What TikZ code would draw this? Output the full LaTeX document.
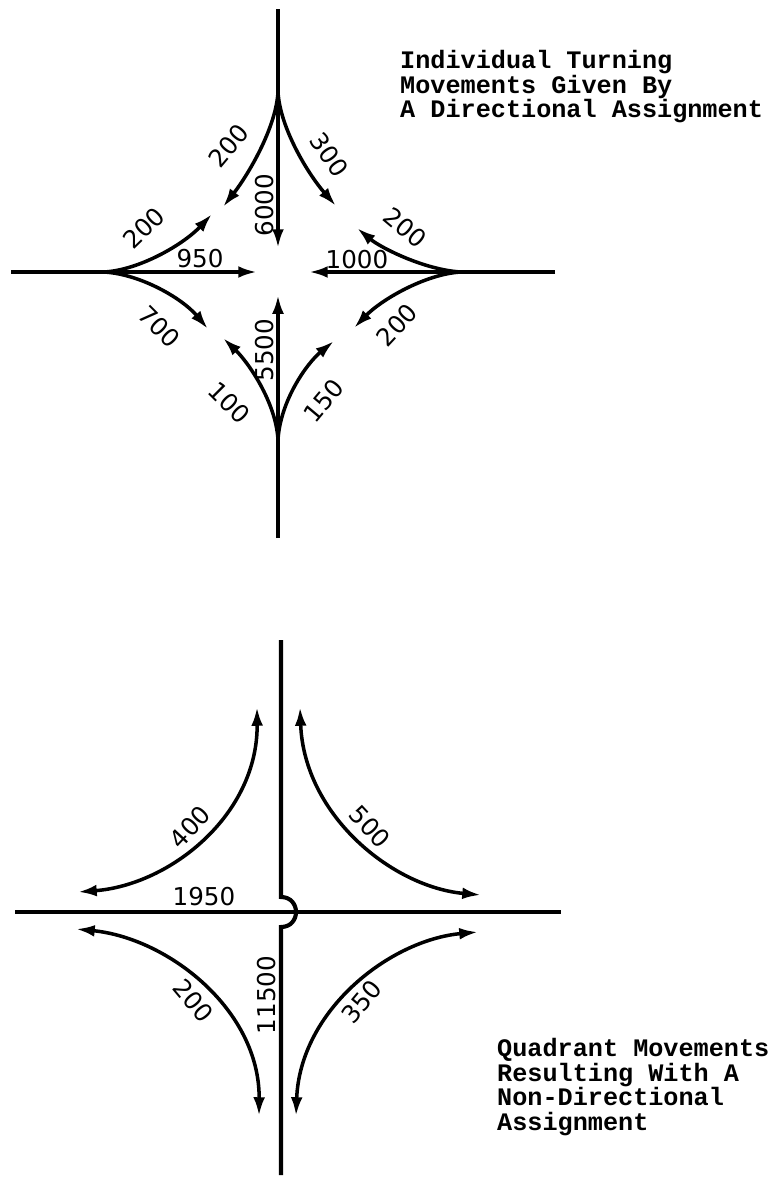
\documentclass[tikz,border=0pt]{standalone}
\usepackage{fontspec}
\setsansfont{DejaVu Sans}
\newfontfamily\typerfont{Liberation Mono}
\usetikzlibrary{arrows.meta}
\tikzset{
  roadline/.style={line width=3.5pt},
  turnarrow/.style={line width=3pt, -{Latex[length=16pt, width=10pt]}},
  quadarrow/.style={line width=3pt, {Latex[length=16pt, width=10pt]}-{Latex[length=16pt, width=10pt]}},
  countlabel/.style={font=\sffamily\fontsize{21}{21}\selectfont, inner sep=0pt},
  notetext/.style={font=\typerfont\bfseries\fontsize{21.5}{21}\selectfont, align=left, anchor=north west, inner sep=0pt}
}
\begin{document}
\begin{tikzpicture}[x=0.3mm, y=-0.3mm]
      \useasboundingbox (0,0) rectangle (768,1181);
      \coordinate (n0) at (278,9);
      \coordinate (n) at (278,92);
      \coordinate (s0) at (278,538);
      \coordinate (s) at (278,440);
      \coordinate (w0) at (11,272);
      \coordinate (w) at (104,272);
      \coordinate (e0) at (555,272);
      \coordinate (e) at (461,272);
      \coordinate (t6000) at (278,248);
      \coordinate (tnw) at (223,207);
      \coordinate (tne) at (336,206);
      \coordinate (t950) at (257,272);
      \coordinate (twn) at (212,214);
      \coordinate (tws) at (208,329);
      \coordinate (t1000) at (309,272);
      \coordinate (ten) at (357,228);
      \coordinate (tes) at (354,328);
      \coordinate (t5500) at (278,295);
      \coordinate (tsw) at (223,338);
      \coordinate (tse) at (334,341);
      \draw[roadline] (n0) -- (n);
      \draw[roadline] (s0) -- (s);
      \draw[roadline] (w0) -- (w);
      \draw[roadline] (e0) -- (e);
      \draw[turnarrow] (n) -- (t6000);
      \draw[turnarrow] (n) .. controls (276,128) and (248,175) .. (tnw);
      \draw[turnarrow] (n) .. controls (280,128) and (308,174) .. (tne);
      \draw[turnarrow] (w) -- (t950);
      \draw[turnarrow] (w) .. controls (140,270) and (184,244) .. (twn);
      \draw[turnarrow] (w) .. controls (140,274) and (182,298) .. (tws);
      \draw[turnarrow] (e) -- (t1000);
      \draw[turnarrow] (e) .. controls (425,270) and (381,248) .. (ten);
      \draw[turnarrow] (e) .. controls (425,274) and (381,300) .. (tes);
      \draw[turnarrow] (s) -- (t5500);
      \draw[turnarrow] (s) .. controls (276,402) and (248,362) .. (tsw);
      \draw[turnarrow] (s) .. controls (280,402) and (306,364) .. (tse);
      \node[countlabel, rotate=90] (l6000) at (265,205) {6000};
      \node[countlabel, rotate=50] (lnw) at (229,146) {200};
      \node[countlabel, rotate=-55] (lne) at (329,155) {300};
      \node[countlabel, rotate=44] (lwn) at (144,228) {200};
      \node[countlabel] (l950) at (200,259) {950};
      \node[countlabel, rotate=-45] (lws) at (159,327) {700};
      \node[countlabel] (l1000) at (357,260) {1000};
      \node[countlabel, rotate=-40] (len) at (405,228) {200};
      \node[countlabel, rotate=47] (les) at (397,325) {200};
      \node[countlabel, rotate=90] (l5500) at (265,350) {5500};
      \node[countlabel, rotate=-45] (lsw) at (229,403) {100};
      \node[countlabel, rotate=50] (lse) at (324,401) {150};
      \node[notetext] (topnote) at (400,50) {Individual Turning\\Movements Given By\\A Directional Assignment};
      \coordinate (vn) at (281,640);
      \coordinate (hopa) at (281,897);
      \coordinate (hopb) at (281,927);
      \coordinate (vs) at (281,1175);
      \coordinate (hw) at (15,912);
      \coordinate (he) at (561,912);
      \draw[roadline] (hw) -- (he);
      \draw[roadline] (vn) -- (hopa) .. controls (301,897) and (301,927) .. (hopb) -- (vs);
      \coordinate (qnwa) at (78,892);
      \coordinate (qnwb) at (257,707);
      \coordinate (qnea) at (300,707);
      \coordinate (qneb) at (481,895);
      \coordinate (qswa) at (76,929);
      \coordinate (qswb) at (259,1116);
      \coordinate (qsea) at (478,932);
      \coordinate (qseb) at (296,1116);
      \draw[quadarrow] (qnwa) .. controls (170,885) and (258,815) .. (qnwb);
      \draw[quadarrow] (qnea) .. controls (304,815) and (392,887) .. (qneb);
      \draw[quadarrow] (qswa) .. controls (168,938) and (260,1010) .. (qswb);
      \draw[quadarrow] (qsea) .. controls (390,940) and (300,1010) .. (qseb);
      \node[countlabel, rotate=47] (l400) at (190,827) {400};
      \node[countlabel, rotate=-47] (l500) at (370,827) {500};
      \node[countlabel] (l1950) at (204,897) {1950};
      \node[countlabel, rotate=-50] (l200) at (193,1001) {200};
      \node[countlabel, rotate=50] (l350) at (362,1002) {350};
      \node[countlabel, rotate=90] (l11500) at (267,995) {11500};
      \node[notetext] (botnote) at (497,1038) {Quadrant Movements\\Resulting With A\\Non-Directional\\Assignment};
    \end{tikzpicture}
\end{document}
